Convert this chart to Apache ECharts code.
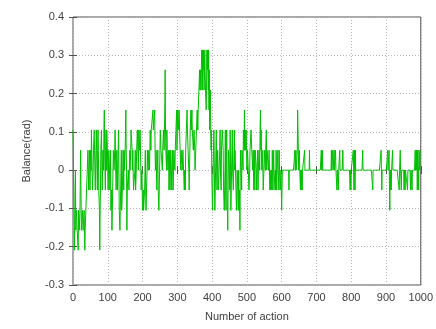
<!DOCTYPE html>
<html>
<head>
<meta charset="utf-8">
<script src="https://cdn.jsdelivr.net/npm/echarts@6/dist/echarts.min.js"></script>
<style>
  html, body { margin: 0; padding: 0; background: #ffffff; }
  #chart { width: 436px; height: 329px; }
</style>
</head>
<body>
<div id="chart"></div>
<script>
// Balance angle (rad) per action, stored as [value, consecutive actions].
const balanceRunsA = [ // actions 0-199
  [0.105,1],[0.052,1],[-0.052,1],[-0.105,1],[-0.209,1],[-0.157,1],[-0.052,1],[0,1],
  [-0.157,2],[-0.105,2],[-0.157,3],[-0.209,1],[-0.105,2],[-0.157,2],[-0.105,2],[0.052,1],
  [-0.052,1],[-0.157,3],[-0.105,2],[-0.157,3],[-0.105,2],[-0.209,1],[-0.157,2],[-0.105,2],
  [-0.052,2],[0,2],[0.052,2],[-0.052,1],[0,2],[0.052,1],[-0.052,1],
  [0.052,2],[0,1],[0.105,1],[0.052,2],[-0.052,2],[0,1],[0.052,2],[0.105,2],[0,1],
  [-0.052,2],[0.052,1],[0.105,1],[0.052,2],[-0.052,1],[0.052,1],[0.105,1],[0.052,1],
  [-0.052,2],[-0.105,1],[-0.209,1],[-0.105,1],[-0.052,1],[0.052,2],[0.105,1],[0,1],
  [-0.052,2],[0.052,2],[0,1],[0.105,1],[0.157,1],[0.052,2],[-0.052,1],[0.052,1],
  [0.105,1],[0,1],[0.105,2],[0.052,1],
  [0.052,1],[-0.052,2],[0.052,2],[0,1],[-0.052,2],[0.052,1],[-0.105,2],[-0.052,1],
  [-0.157,1],[-0.105,2],[0,1],[0.052,2],[0,2],[0.052,1],[0.105,1],[0.052,2],[-0.052,2],
  [0.052,1],[0,1],[-0.052,2],[0.052,1],[0.105,1],[0,1],[-0.105,2],[-0.157,1],[-0.105,1],
  [-0.052,2],[0.052,1],[-0.105,2],[-0.052,1],[0,1],[0.052,2],[-0.052,1],[0.052,1],[0,2],
  [0.052,1],[0.105,1],[0.157,1],[0.052,1],[0,1],[-0.157,1],[-0.052,3],[0,2],[-0.052,2],
  [0.052,1],[0,2],[0.052,1],[0.105,3],[0.052,1],[0,1],[0.052,2],[-0.052,4],[0,1],
  [0.052,1],[-0.052,2],[0,1],[0.052,2],[0.105,3],[0,1],[0.105,3],[0.052,1],[0.105,2],
  [0,1],[-0.052,2],[0,1],[-0.052,1]
];
const balanceRunsB = [ // actions 200-399
  [-0.105,2],[-0.052,1],[-0.105,3],[-0.052,2],[0.052,1],[-0.052,1],[-0.105,3],[0,1],
  [0.052,2],[0,2],[0.052,2],[0,1],[0.052,1],[0.105,2],[0.052,1],[0.105,5],[0.157,1],
  [0.105,4],[0.157,1],[0.052,1],[0,2],[0.052,2],[-0.052,1],[0,2],[0.052,1],[-0.052,2],
  [-0.105,2],[0,1],
  [0.052,1],[0.105,2],[0.052,4],[0,1],[0.052,2],[0.105,2],[0.052,1],[0.105,1],[0.157,1],
  [0.262,1],[0.105,1],[0.052,2],[0,1],[0.105,1],[0.052,2],[0,2],[0.052,1],[-0.052,1],
  [0,1],[0.052,1],[-0.052,2],[0.052,2],[0,1],[-0.052,2],[0.052,2],[-0.052,1],[0,1],
  [0.052,3],[0,1],[0.052,2],[0.105,2],[0.157,1],[0.052,1],
  [0.105,1],[0.157,3],[0.105,1],[0.157,3],[0.052,2],[0,1],[0.052,3],[0,2],[0.052,2],
  [0,2],[-0.052,1],[0,2],[-0.052,1],[0.052,2],[0.105,2],[0.157,1],[0.105,4],[0,1],
  [-0.052,2],[0.052,1],[0.105,2],[0.157,1],[0.105,2],[0.157,1],[0.105,3],[0.052,2],
  [0.105,2],
  [0.052,1],[0,2],[0.052,2],[0.105,2],[0.157,2],[0.105,1],[0.157,2],[0.209,2],[0.262,1],
  [0.209,2],[0.262,1],[0.209,1],[0.262,1],[0.314,2],[0.209,1],[0.314,1],[0.262,1],
  [0.314,2],[0.209,2],[0.314,1],[0.262,1],[0.209,2],[0.157,1],[0.209,1],[0.314,1],
  [0.262,1],[0.314,2],[0.209,1],[0.314,1],[0.157,1],[0.262,1],[0.105,2],[0.209,1],
  [0.105,1],[0.052,1],[0.105,1],[0,1]
];
const balanceRunsC = [ // actions 400-599
  [-0.052,1],[-0.105,2],[0,1],[0.052,1],[0.105,1],[0.052,1],[-0.052,1],[-0.105,2],[0,1],
  [0.052,1],[0.105,1],[0,1],[-0.052,2],[0.052,1],[0,1],[-0.052,2],[0,2],[0.052,1],
  [0.105,1],[0,2],[-0.052,1],[0.052,2],[0.105,3],[0.052,1],[-0.052,2],[-0.105,2],[0,1],
  [0.105,1],[-0.052,1],[-0.105,1],[0.052,1],[0.105,1],[-0.052,1],[-0.105,1],[-0.157,1],
  [-0.052,1],[0.052,2],[0,1],
  [-0.052,2],[0.105,1],[0,1],[-0.105,1],[-0.052,1],[0,1],[0.052,1],[0.105,1],[0,2],
  [-0.052,2],[0.052,1],[0.105,1],[0,1],[0.052,4],[-0.105,1],[-0.052,1],[0,2],[-0.052,1],
  [-0.105,1],[0,1],[-0.105,2],[-0.052,1],[-0.157,1],[0,1],[0.052,3],[-0.052,1],[0.052,3],
  [0,1],[0.105,2],[0.052,1],[0.157,1],[0.052,1],[0.105,1],[0.052,2],[0.105,1],[0.052,1],
  [0,2],[0.052,2],[0,2],[-0.052,2],[0,1],[0.052,3],[0.105,2],[0.052,3],[0,1],[0.052,2],
  [-0.052,1],[0.052,2],[-0.052,1],[0.052,3],[0,1],[-0.052,1],[0,2],[0.052,1],[-0.052,1],
  [0,2],[0.052,2],[0,1],[0.105,1],[0.157,1],[0.052,1],[0.105,2],[0,1],[0.052,2],[0,1],
  [-0.052,2],[0,1],
  [0.052,3],[0,1],[0.052,2],[0.105,1],[0,1],[0.052,4],[0,2],[0.052,2],[-0.052,1],[0,2],
  [-0.052,2],[0,1],[-0.052,1],[0.052,1],[0,1],[-0.052,1],[0,1],[0.052,1],[0,3],
  [-0.052,1],[0,1],[-0.052,1],[0.052,1],[0,1],[-0.052,1],[0,2],[0.052,1],[0,2],
  [-0.052,1],[0.052,1],[0,2],[-0.052,2],[0,1],[-0.052,1]
];
const balanceRunsD = [ // actions 600-999
  [-0.105,1],[-0.052,1],[0,19],[-0.052,1],[0,16],[0.052,1],[0,2],[0.052,1],[0,3],
  [0.052,1],[0.157,1],[0.105,1],[0.052,1],[0,2],[0.052,1],[0,2],[-0.052,1],[0,1],
  [-0.052,2],[0,1],[-0.052,1],[0,6],[0.052,1],[0,13],[0.052,1],[0,19],
  [0,14],[0.052,1],[0,2],[0.052,1],[0,25],[0.052,1],[0,3],[0.052,1],[0,3],[0.052,1],
  [0,3],[0.052,1],[0,3],[-0.052,1],[0,3],[-0.052,1],[0,3],[0.052,1],[0,8],[0.052,1],
  [0,20],[-0.052,1],[0,1],[-0.052,1],
  [0,6],[0.052,1],[0,1],[-0.052,1],[0.052,1],[0,1],[-0.052,1],[0.052,1],[0,20],
  [0.052,1],[0,28],[-0.052,1],[0,23],[0.052,1],[0,1],[-0.052,1],[0,16],[0.052,1],[0,3],
  [0.052,1],[-0.052,1],[-0.105,1],[0,1],[-0.052,1],[0,1],[-0.052,1],[0,3],[0.052,1],
  [0,18],[-0.052,1],[0,2],[0.052,1],[0,2],[-0.052,1],[0,7],[-0.052,1],[0,2],[-0.052,1],
  [0,6],[-0.052,1],[0,8],[-0.052,1],[0,3],[-0.052,1],[0,8],[0.052,1],[0,2],[0.052,1],
  [0,1],[0.052,1],[-0.052,1],[0.052,2],[0,1],[-0.052,1],[0.052,2],[0,1],[0.052,2]
];

// Axis ranges and tick spacing
const xRange = { min: 0, max: 1000, step: 100 };
const yRange = { min: -0.3, max: 0.4, step: 0.1 };
const xTitle = 'Number of action';
const yTitle = 'Balance(rad)';

// Expand the runs into one value per action
const balance = [];
[balanceRunsA, balanceRunsB, balanceRunsC, balanceRunsD].forEach(runs => {
  runs.forEach(([v, n]) => { for (let i = 0; i < n; i++) balance.push(v); });
});
const seriesData = balance.map((v, i) => [i, v]);

const textColor = '#404040';
const frameColor = '#505050';
const gridColor = '#b8b8b8';
const fontFamily = '"Liberation Sans", Arial, sans-serif';

const baseX = {
  type: 'value', min: xRange.min, max: xRange.max, interval: xRange.step,
  axisLine: { show: false },
  axisTick: { show: true, inside: true, length: 4, lineStyle: { color: frameColor } }
};
const baseY = {
  type: 'value', min: yRange.min, max: yRange.max, interval: yRange.step,
  axisLine: { show: false },
  axisTick: { show: true, inside: true, length: 4, lineStyle: { color: frameColor } }
};

const chart = echarts.init(document.getElementById('chart'), null, { renderer: 'canvas' });
chart.setOption({
  animation: false,
  backgroundColor: '#ffffff',
  grid: {
    left: 73, right: 13, top: 17, bottom: 44,
    show: true, borderColor: frameColor, borderWidth: 1, backgroundColor: 'transparent'
  },
  xAxis: [
    Object.assign({}, baseX, {
      position: 'bottom',
      name: xTitle, nameLocation: 'middle', nameGap: 26,
      nameTextStyle: { color: textColor, fontSize: 11, fontFamily },
      axisLabel: {
        color: textColor, fontSize: 11, fontFamily, margin: 7,
        formatter: v => String(Math.round(v))
      },
      splitLine: { show: true, lineStyle: { color: gridColor, type: [1, 2], width: 1 } }
    }),
    Object.assign({}, baseX, {
      position: 'top', axisLabel: { show: false }, splitLine: { show: false }
    })
  ],
  yAxis: [
    Object.assign({}, baseY, {
      position: 'left',
      name: yTitle, nameLocation: 'middle', nameGap: 41, nameRotate: 90,
      nameTextStyle: { color: textColor, fontSize: 11, fontFamily },
      axisLabel: {
        color: textColor, fontSize: 11, fontFamily, margin: 9,
        formatter: v => String(+v.toFixed(1))
      },
      splitLine: { show: true, lineStyle: { color: gridColor, type: [1, 2], width: 1 } }
    }),
    Object.assign({}, baseY, {
      position: 'right', axisLabel: { show: false }, splitLine: { show: false }
    })
  ],
  series: [{
    type: 'line',
    xAxisIndex: 0, yAxisIndex: 0,
    data: seriesData,
    showSymbol: false,
    sampling: null,
    lineStyle: { color: '#00c000', width: 1 },
    itemStyle: { color: '#00c000' },
    z: 3
  }]
});
</script>
</body>
</html>
